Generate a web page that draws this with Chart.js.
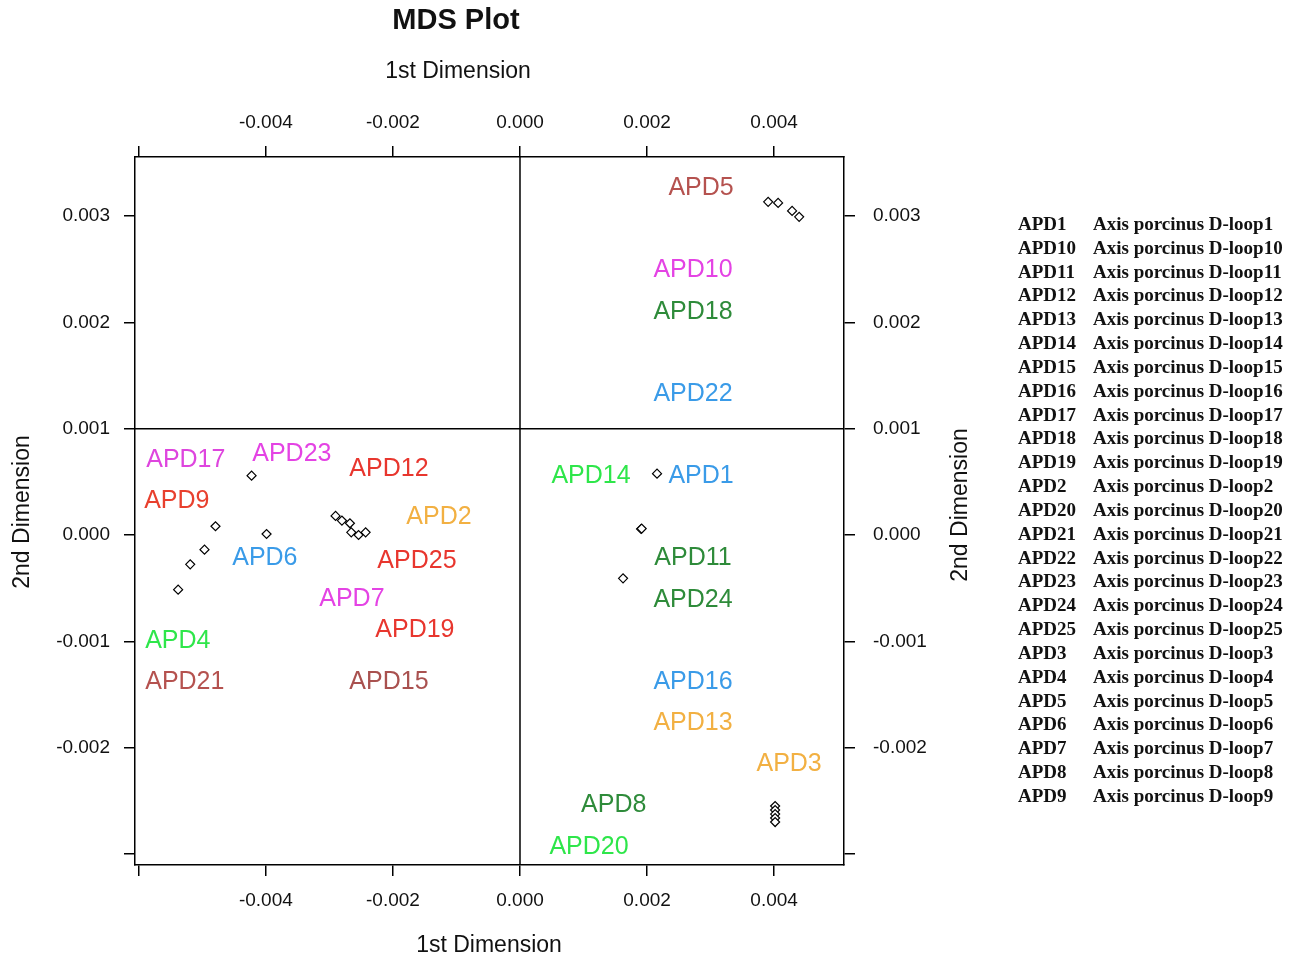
<!DOCTYPE html>
<html>
<head>
<meta charset="utf-8">
<title>MDS Plot</title>
<script src="https://cdn.jsdelivr.net/npm/chart.js@4.4.1/dist/chart.umd.min.js"></script>
<style>
  html, body { margin: 0; padding: 0; background: #fff; }
  canvas { display: block; }
</style>
</head>
<body>
<canvas id="mdsChart" width="1300" height="963"></canvas>
<script>
// sample points (1st / 2nd dimension)
const pointX = [
  0.003906, 0.004063, 0.004283, 0.004394,
  -0.004225, -0.004793, -0.004966, -0.005191, -0.005381, -0.003989,
  -0.002903, -0.002803, -0.002677, -0.002656, -0.002541, -0.002430,
  0.002157, 0.001906, 0.001915, 0.001622,
  0.004016, 0.004016, 0.004016, 0.004016, 0.004016
];
const pointY = [
  0.003133, 0.003123, 0.003048, 0.002992,
  0.000558, 0.000082, -0.000138, -0.000276, -0.000514, 0.000009,
  0.000179, 0.000135, 0.000110, 0.000025, 0.000000, 0.000025,
  0.000577, 0.000056, 0.000060, -0.000408,
  -0.002549, -0.002587, -0.002625, -0.002662, -0.002700
];

// text labels and where they sit (data units)
const labelNames = ['APD5', 'APD10', 'APD18', 'APD22', 'APD17', 'APD23', 'APD12', 'APD9',
  'APD2', 'APD6', 'APD25', 'APD7', 'APD19', 'APD4', 'APD21', 'APD15', 'APD14', 'APD1',
  'APD11', 'APD24', 'APD16', 'APD13', 'APD3', 'APD8', 'APD20'];
const labelX = [0.002850, 0.002724, 0.002724, 0.002724, -0.005260, -0.003591, -0.002063, -0.005402,
  -0.001276, -0.004016, -0.001622, -0.002646, -0.001654, -0.005386, -0.005276, -0.002063, 0.001118, 0.002850,
  0.002724, 0.002724, 0.002724, 0.002724, 0.004236, 0.001476, 0.001087];
const labelY = [0.003265, 0.002493, 0.002098, 0.001326, 0.000706, 0.000762, 0.000621, 0.000320,
  0.000169, -0.000216, -0.000245, -0.000602, -0.000894, -0.000997, -0.001383, -0.001383, 0.000555, 0.000555,
  -0.000216, -0.000611, -0.001383, -0.001769, -0.002154, -0.002540, -0.002935];

// axis ticks
const xTicks = [-0.006, -0.004, -0.002, 0.000, 0.002, 0.004];
const yTicks = [-0.003, -0.002, -0.001, 0.000, 0.001, 0.002, 0.003];
const xRefLine = 0.000;
const yRefLine = 0.001;

// colours for the labels, same order as labelNames
const labelColors = ['#B5524F', '#E443E4', '#2E8B3A', '#3A9BE8', '#DE45DE', '#E443E4', '#E8362E', '#E8402E',
  '#F2B042', '#3A9BE8', '#E8362E', '#E443E4', '#E8362E', '#2EE64A', '#B5524F', '#A9514F', '#2EE64A', '#3A9BE8',
  '#2E8B3A', '#2E8B3A', '#3A9BE8', '#F2B042', '#F2B042', '#2E8B3A', '#2EE64A'];

const sansFont = '"Liberation Sans", Arial, sans-serif';
const serifFont = '"Liberation Serif", "Times New Roman", serif';

const scatterData = pointX.map((x, i) => ({ x: x, y: pointY[i] }));
const legendIds = labelNames.slice().sort();

function tickLabel(v, blank) {
  if (Math.abs(v - blank) < 1e-9) return '';
  return v.toFixed(3);
}

const extras = {
  id: 'extras',
  beforeDatasetsDraw(chart) {
    const { ctx, chartArea } = chart;
    const xs = chart.scales.x, ys = chart.scales.y;
    ctx.save();
    ctx.strokeStyle = '#000';
    ctx.lineWidth = 1.5;
    const px = xs.getPixelForValue(xRefLine);
    const py = ys.getPixelForValue(yRefLine);
    ctx.beginPath();
    ctx.moveTo(px, chartArea.top);
    ctx.lineTo(px, chartArea.bottom);
    ctx.moveTo(chartArea.left, py);
    ctx.lineTo(chartArea.right, py);
    ctx.stroke();
    ctx.restore();
  },
  afterDatasetsDraw(chart) {
    const { ctx } = chart;
    const xs = chart.scales.x, ys = chart.scales.y;
    ctx.save();
    ctx.font = '25px ' + sansFont;
    ctx.textAlign = 'center';
    ctx.textBaseline = 'middle';
    labelNames.forEach((name, i) => {
      ctx.fillStyle = labelColors[i];
      ctx.fillText(name, xs.getPixelForValue(labelX[i]), ys.getPixelForValue(labelY[i]));
    });
    ctx.restore();
  },
  afterDraw(chart) {
    const { ctx } = chart;
    ctx.save();
    ctx.fillStyle = '#111';
    ctx.textAlign = 'center';
    ctx.textBaseline = 'middle';

    ctx.font = 'bold 29px ' + sansFont;
    ctx.fillText('MDS Plot', 456, 21);

    ctx.font = '23px ' + sansFont;
    ctx.fillText('1st Dimension', 458, 72);
    ctx.fillText('1st Dimension', 489, 946);

    ctx.save();
    ctx.translate(23, 512);
    ctx.rotate(-Math.PI / 2);
    ctx.fillText('2nd Dimension', 0, 0);
    ctx.restore();

    ctx.save();
    ctx.translate(961, 505);
    ctx.rotate(-Math.PI / 2);
    ctx.fillText('2nd Dimension', 0, 0);
    ctx.restore();

    // key on the right
    ctx.textAlign = 'left';
    ctx.font = 'bold 19px ' + serifFont;
    legendIds.forEach((id, i) => {
      const y = 225 + i * 23.83;
      ctx.fillText(id, 1018, y);
      ctx.fillText('Axis porcinus D-loop' + id.slice(3), 1093, y);
    });
    ctx.restore();
  }
};

const gridStyle = {
  drawOnChartArea: false,
  drawTicks: true,
  tickLength: 11,
  color: '#000',
  lineWidth: 1.5
};
const borderStyle = { display: true, color: '#000', width: 1.5 };
const tickFont = { family: sansFont, size: 19 };

const mdsChart = new Chart(document.getElementById('mdsChart'), {
  type: 'scatter',
  data: {
    datasets: [{
      label: 'MDS',
      data: scatterData,
      pointStyle: 'rectRot',
      pointRadius: 4.5,
      pointHoverRadius: 4.5,
      borderColor: '#000',
      borderWidth: 1.2,
      backgroundColor: '#fff'
    }]
  },
  options: {
    responsive: false,
    animation: false,
    devicePixelRatio: 1,
    layout: { padding: { left: 0, top: 0, right: 356, bottom: 0 } },
    plugins: {
      legend: { display: false },
      tooltip: { enabled: false },
      title: { display: false }
    },
    scales: {
      x: {
        type: 'linear',
        position: 'bottom',
        min: -0.00606,
        max: 0.0051,
        afterBuildTicks: s => { s.ticks = xTicks.map(v => ({ value: v })); },
        afterFit: s => { s.height = 98; },
        grid: gridStyle,
        border: borderStyle,
        ticks: { color: '#111', font: tickFont, padding: 13, maxRotation: 0,
          callback: v => tickLabel(v, -0.006) }
      },
      x2: {
        type: 'linear',
        axis: 'x',
        position: 'top',
        min: -0.00606,
        max: 0.0051,
        afterBuildTicks: s => { s.ticks = xTicks.map(v => ({ value: v })); },
        afterFit: s => { s.height = 157; },
        grid: gridStyle,
        border: borderStyle,
        ticks: { color: '#111', font: tickFont, padding: 12, maxRotation: 0,
          callback: v => tickLabel(v, -0.006) }
      },
      y: {
        type: 'linear',
        position: 'left',
        min: -0.003104,
        max: 0.003555,
        afterBuildTicks: s => { s.ticks = yTicks.map(v => ({ value: v })); },
        afterFit: s => { s.width = 135; },
        grid: gridStyle,
        border: borderStyle,
        ticks: { color: '#111', font: tickFont, padding: 14,
          callback: v => tickLabel(v, -0.003) }
      },
      y2: {
        type: 'linear',
        axis: 'y',
        position: 'right',
        min: -0.003104,
        max: 0.003555,
        afterBuildTicks: s => { s.ticks = yTicks.map(v => ({ value: v })); },
        afterFit: s => { s.width = 100; },
        grid: gridStyle,
        border: borderStyle,
        ticks: { color: '#111', font: tickFont, padding: 18,
          callback: v => tickLabel(v, -0.003) }
      }
    }
  },
  plugins: [extras]
});
</script>
</body>
</html>
